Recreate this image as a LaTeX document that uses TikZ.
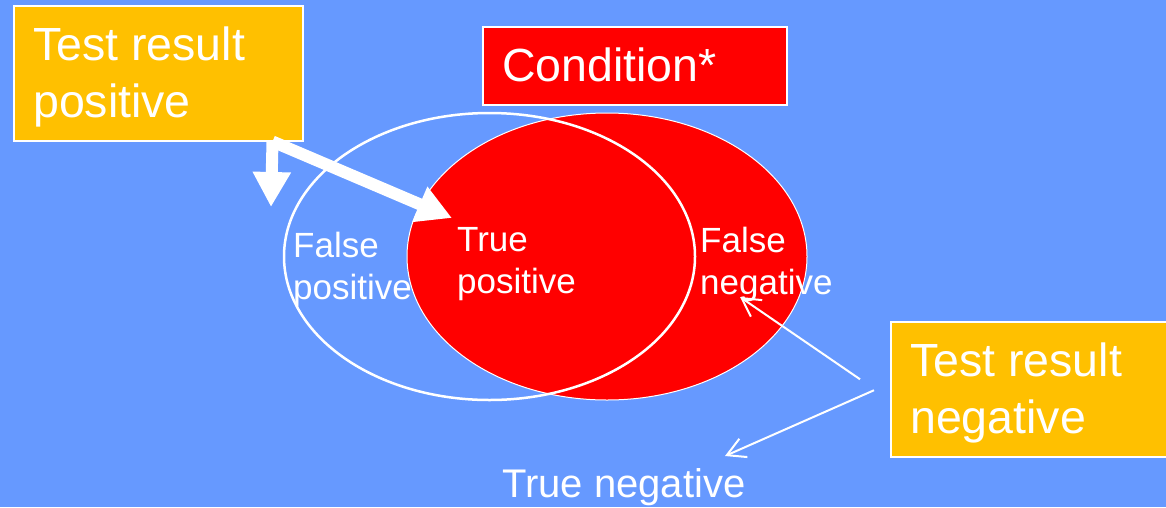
\documentclass[tikz,border=0pt]{standalone}
\usepackage{fontspec}
\setmainfont{Liberation Sans}
\usetikzlibrary{shapes.geometric,arrows.meta,positioning,calc}
\definecolor{bgblue}{RGB}{102,153,255}
\definecolor{boxorange}{RGB}{255,192,0}

\begin{document}
\begin{tikzpicture}[
    x=1pt, y=-1pt,
    resultbox/.style={rectangle, draw=white, line width=1.5pt, fill=boxorange, anchor=north west, minimum width=289pt, minimum height=135pt, inner sep=0pt},
    condbox/.style={rectangle, draw=white, line width=1.5pt, fill=red, anchor=north west, minimum width=304pt, minimum height=78pt, inner sep=0pt},
    bigtext/.style={text=white, align=left, inner sep=0pt, font=\fontsize{46.5}{57}\selectfont},
    smalltext/.style={text=white, align=left, inner sep=0pt, anchor=north west, font=\fontsize{35}{42}\selectfont},
    venn/.style={ellipse, minimum width=#1, minimum height=287pt, inner sep=0pt},
    thickarrow/.style={-{Triangle[width=36pt, length=35pt]}, line width=12pt, white},
    thinarrow/.style={-{Straight Barb[width=20pt, length=18pt]}, line width=2pt, white}
]

% Background
\path[use as bounding box, clip] (0,0) rectangle (1166,507);
\fill[bgblue] (0,0) rectangle (1166,507);

% Condition set
\node[venn=400pt, fill=red, draw=white, line width=1pt] (cset) at (607,256.5) {};

% Positive test set
\node[venn=411pt, draw=white, line width=2.5pt] (tset) at (489.5,256.5) {};

% Test result positive
\node[resultbox] (pos) at (13,5) {};
\node[bigtext, below right=22pt and 20pt of pos.north west] (postext) {Test result\\positive};

% Condition
\node[condbox] (cond) at (482,26) {};
\node[bigtext, below right=22pt and 20pt of cond.north west] (condtext) {Condition*};

% Test result negative
\node[resultbox, minimum width=300pt] (neg) at (890,321) {};
\node[bigtext, below right=22pt and 20pt of neg.north west] (negtext) {Test result\\negative};

% Set labels
\node[smalltext] (fp) at (293,232) {False\\positive};
\node[smalltext] (tp) at (457,227) {True\\positive};
\node[smalltext] (fn) at (700,227) {False\\negative};
\node[smalltext, font=\fontsize{40}{48}\selectfont] (tn) at (502,468) {True negative};

% Arrows
\coordinate (fpmark) at (271,207);
\coordinate (tpmark) at (452,218);
\coordinate (fnmark) at (740,297);
\coordinate (tnmark) at (725,456);
\draw[thickarrow] ($(pos.south east)+(-31,0)$) -- (fpmark);
\draw[thickarrow] ($(pos.south east)+(-31,0)$) -- (tpmark);
\draw[thinarrow] ($(neg.west)+(-30,-10)$) -- (fnmark);
\draw[thinarrow] ($(neg.west)+(-16,1)$) -- (tnmark);

\end{tikzpicture}
\end{document}
